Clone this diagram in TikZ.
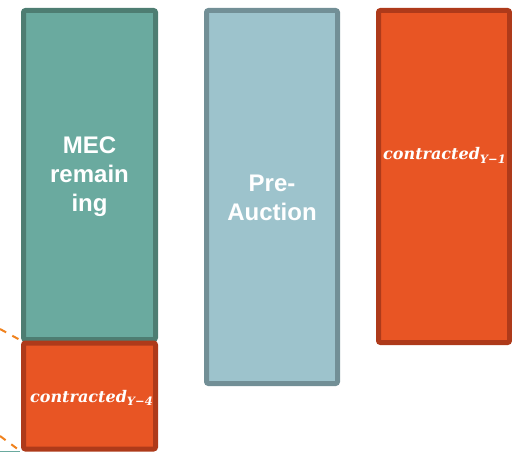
\documentclass[tikz,border=0pt]{standalone}
\usepackage{fontspec}
\setmainfont{Liberation Sans}
\newfontfamily\mathserif{DejaVu Serif}
\definecolor{tealfill}{HTML}{6AAA9F}
\definecolor{tealline}{HTML}{4E7D72}
\definecolor{bluefill}{HTML}{9DC3CC}
\definecolor{blueline}{HTML}{728F96}
\definecolor{orfill}{HTML}{E85524}
\definecolor{orline}{HTML}{AE3A1A}
\definecolor{dashor}{HTML}{F0821E}
\newcommand{\contr}[1]{{\mathserif\bfseries\itshape contracted\raisebox{-3.5pt}{\fontsize{11.5}{11.5}\selectfont #1}}}
\begin{document}
\begin{tikzpicture}[x=1pt,y=-1pt,
  barbox/.style={rectangle,line width=5pt,rounded corners=2pt,inner sep=0pt},
  tealbar/.style={barbox,draw=tealline,fill=tealfill},
  bluebar/.style={barbox,draw=blueline,fill=bluefill},
  orbar/.style={barbox,draw=orline,fill=orfill},
  bartext/.style={text=white,font=\fontsize{24}{29}\selectfont\bfseries,align=center},
  mathtext/.style={text=white,font=\fontsize{16}{18}\selectfont,inner sep=0pt},
  guide/.style={draw=dashor,line width=2pt,dash pattern=on 7pt off 7pt}]
\useasboundingbox (0,0) rectangle (512,452);
\node[tealbar,minimum width=132pt,minimum height=329pt] (mec) at (89.5,175) {};
\fill[tealfill] (0,450.5) rectangle (20,452);
\node[orbar,minimum width=132pt,minimum height=106pt] (c4) at (89.5,396) {};
\node[bluebar,minimum width=131pt,minimum height=373pt] (pre) at (272,197) {};
\node[orbar,minimum width=131pt,minimum height=332pt] (c1) at (444,176.5) {};
\node[bartext] (mect) at (89.5,177) {MEC\\remain\\ing};
\node[bartext] (pret) at (272,198) {Pre-\\Auction};
\node[mathtext,anchor=base west] (c4t) at (30,402) {\contr{Y−4}};
\node[mathtext,anchor=base west] (c1t) at (383,160) {\contr{Y−1}};
\coordinate (g1) at (0,329);
\coordinate (g2) at (0,436);
\draw[guide] (g1) -- (c4.north west);
\draw[guide] (g2) -- (c4.south west);
\end{tikzpicture}
\end{document}
